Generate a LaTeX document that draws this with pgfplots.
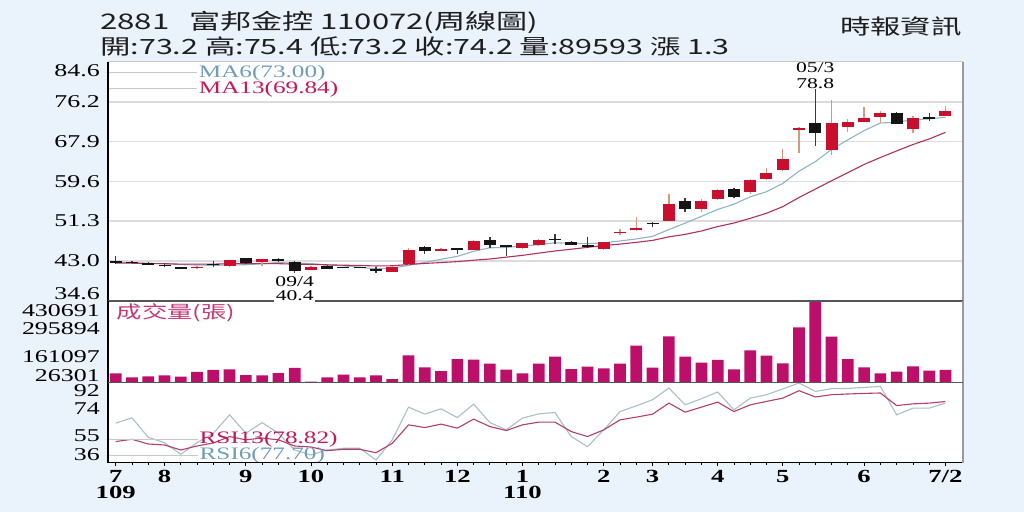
\documentclass[border=0pt]{standalone}
\usepackage{pgfplots}
\pgfplotsset{compat=1.18}
\usepackage{pgfplotstable}
\usepackage{fontspec}
\setmainfont{Liberation Serif}[FakeStretch=1.44]
\newfontfamily\cjk{Noto Sans CJK TC}[FakeStretch=1.45]

\definecolor{bgc}{HTML}{EAF2FB}
\definecolor{candr}{HTML}{C8102E}
\definecolor{wickr}{HTML}{D49A7E}
\definecolor{candk}{HTML}{141414}
\definecolor{wickk}{HTML}{3A3A3A}
\definecolor{ma6c}{HTML}{8DB4C8}
\definecolor{ma13c}{HTML}{B0305E}
\definecolor{ma6t}{HTML}{6F9DB9}
\definecolor{ma13t}{HTML}{C01A5C}
\definecolor{volc}{HTML}{BC0F6A}
\definecolor{volt}{HTML}{C23B78}
\definecolor{rsi6c}{HTML}{A9BFC9}
\definecolor{rsi13c}{HTML}{B2406A}
\definecolor{gridc}{HTML}{DCDCDC}
\definecolor{legl}{HTML}{C8C8C8}
\definecolor{titc}{HTML}{1E1E1E}
\definecolor{frr}{HTML}{9A9A9A}
\definecolor{frtop}{HTML}{C8C8C8}
\definecolor{frsep}{HTML}{555555}

% red (up) candles
\pgfplotstableread{
i o h l c
5 41.4 41.9 41.3 41.8
7 42.0 43.2 41.6 43.1
9 42.8 43.4 41.9 43.3
12 41.1 41.9 41.0 41.8
17 40.7 41.9 40.6 41.8
18 42.3 45.6 42.2 45.3
20 45.15 45.6 45.0 45.55
22 45.3 47.4 45.2 47.1
25 45.6 46.8 45.4 46.7
26 46.2 47.5 46.0 47.3
30 45.5 47.0 45.3 46.9
31 48.8 49.7 48.4 49.1
32 49.4 52.2 49.3 49.8
34 51.4 57.0 51.3 54.9
36 53.8 56.0 53.2 55.4
37 55.9 58.0 55.6 57.8
39 57.4 60.0 57.0 59.9
40 60.0 62.4 59.8 61.3
41 62.0 66.3 61.8 64.2
42 70.4 70.9 65.5 70.8
44 66.2 76.5 65.1 71.8
45 71.0 72.6 70.0 71.9
46 72.1 75.2 72.0 72.9
47 73.1 74.4 71.7 73.8
49 70.5 73.2 69.8 72.8
51 73.2 75.4 73.2 74.2
}\redc

% black (down) candles
\pgfplotstableread{
i o h l c
0 42.9 43.9 42.4 42.6
1 42.85 42.95 42.5 42.6
2 42.6 42.8 42.1 42.2
3 42.2 42.5 41.6 41.95
4 41.6 41.7 41.2 41.3
6 42.35 42.9 41.6 42.05
8 43.5 43.6 42.4 42.6
10 43.3 43.5 42.8 42.9
11 42.8 43.0 40.4 40.8
13 42.0 42.1 41.2 41.3
14 41.75 41.8 41.5 41.5
15 41.65 41.7 41.4 41.4
16 41.2 41.6 40.5 40.8
19 45.8 46.0 44.5 45.0
21 45.6 45.7 44.5 45.2
23 47.3 48.0 45.6 46.2
24 46.2 46.3 44.1 45.8
27 47.65 48.6 46.6 47.35
28 47.0 47.2 46.2 46.3
29 46.4 48.0 45.7 45.8
33 50.9 51.1 50.0 50.7
35 55.4 56.1 53.3 53.8
38 58.1 58.3 56.2 56.4
43 71.8 78.8 67.0 69.6
48 73.8 74.0 71.5 71.6
50 73.0 73.8 72.2 72.7
}\blkc

% volume, moving averages, RSI
\pgfplotstableread{
i v ma6 ma13 rsi6 rsi13
0 72800 42.7 42.5 63.7 50.8
1 53000 42.6 42.5 67.4 52.4
2 58000 42.5 42.4 53.8 49.1
3 62900 42.4 42.4 50.0 48.4
4 56000 42.2 42.3 41.9 44.9
5 79300 42.12 42.3 50.0 47.7
6 89200 42.05 42.3 56.6 49.8
7 92600 42.12 42.4 69.5 54.3
8 64400 42.18 42.4 56.6 52.0
9 62900 42.38 42.4 64.1 53.3
10 74300 42.65 42.4 56.6 52.0
11 99100 42.48 42.3 44.9 47.7
12 31500 42.42 42.26 41.4 47.0
13 53000 42.12 42.16 44.9 44.4
14 65900 41.95 42.08 46.1 45.4
15 53000 41.65 42.02 46.1 45.4
16 62900 41.30 41.92 37.9 43.0
17 44600 41.47 41.96 52.0 49.6
18 161900 42.05 42.23 74.9 62.5
19 102500 42.67 42.45 70.0 60.6
20 84200 43.32 42.63 73.7 63.0
21 143600 43.93 42.83 67.6 60.2
22 140100 44.98 43.12 77.0 66.5
23 120300 45.72 43.38 64.1 61.3
24 90600 45.80 43.76 59.0 58.5
25 72800 46.08 44.14 67.2 62.5
26 120300 46.38 44.60 70.2 64.4
27 155000 46.77 45.05 71.1 64.4
28 94100 46.63 45.42 54.3 57.8
29 105500 46.57 45.81 47.2 54.3
30 97600 46.75 46.20 59.0 59.0
31 120300 47.15 46.49 71.8 66.0
32 209400 47.57 46.86 75.8 67.9
33 100500 48.10 47.26 80.1 70.0
34 256000 49.53 48.01 88.3 77.7
35 155000 50.87 48.52 76.5 71.4
36 125300 52.28 49.23 80.8 74.9
37 138700 53.73 50.15 85.5 78.4
38 92600 54.83 50.90 73.0 71.8
39 186700 56.37 51.87 81.2 76.5
40 160000 57.43 52.93 83.6 78.9
41 122300 59.17 54.31 87.6 81.2
42 300500 61.73 56.23 91.8 86.4
43 430691 63.70 57.98 85.9 82.0
44 254000 66.27 59.72 87.8 83.6
45 143600 68.27 61.42 88.0 84.1
46 102500 70.20 63.13 88.7 84.5
47 72800 71.80 64.58 89.4 84.8
48 80700 71.93 65.95 69.5 76.0
49 107500 72.47 67.29 74.2 77.2
50 85700 72.65 68.45 74.2 77.7
51 89593 73.00 69.84 77.70 78.82
}\ind

\pgfplotsset{
  panel/.style={
    scale only axis, width=855pt, xmin=-0.473, xmax=52.08,
    anchor=south west, clip mode=individual,
    axis background/.style={fill=white},
    axis line style={draw=none},
    xtick=\empty, ytick style={draw=none},
    scaled y ticks=false,
    yticklabel style={font=\fontsize{18}{18}\selectfont, anchor=east, inner sep=0pt, xshift=-8pt, text=black},
  },
  candle/.style={only marks, mark=*, mark size=0pt,
    mark options={draw opacity=0, fill opacity=0}, forget plot},
}

\newcommand{\frameedges}[2]{%
  \draw[#1, line width=1.3pt] (rel axis cs:0,1) -- (rel axis cs:1,1);
  \draw[#2, line width=1.3pt] (rel axis cs:0,0) -- (rel axis cs:1,0);
  \draw[frr, line width=1.6pt] (rel axis cs:1,0) -- (rel axis cs:1,1);
  \draw[black, line width=1.6pt] (rel axis cs:0,0) -- (rel axis cs:0,1);
}

\begin{document}
\begin{tikzpicture}
\fill[bgc] (0pt,0pt) rectangle (1024pt,512pt);

\node[anchor=west, inner sep=0pt, text=titc, font=\cjk\fontsize{21.5}{24}\selectfont] at (100pt,490pt) {2881\hspace{20pt}富邦金控\hspace{6pt}110072(周線圖)};
\node[anchor=west, inner sep=0pt, text=titc, font=\cjk\fontsize{21}{24}\selectfont] at (100pt,466pt) {開:73.2 高:75.4 低:73.2 收:74.2 量:89593 漲 1.3};
\node[anchor=east, inner sep=0pt, text=titc, font=\cjk\fontsize{21}{24}\selectfont] at (962pt,485pt) {時報資訊};

% ---------------- price panel
\begin{axis}[panel, at={(108pt,211pt)}, height=239.3pt,
  ymin=34.6, ymax=84.6,
  ytick={34.6,43.0,51.3,59.6,67.9,76.2,84.6},
  yticklabels={\raisebox{7pt}[\height][\depth]{34.6},43.0,51.3,59.6,67.9,76.2,\raisebox{-9pt}[\height][\depth]{84.6}},
  ymajorgrids, grid style={gridc, line width=1.5pt}]
\addplot[ma6c, line width=1.1pt] table[x=i, y=ma6]{\ind};
\addplot[ma13c, line width=1.1pt] table[x=i, y=ma13]{\ind};
% wicks
\addplot[candle,
  error bars/.cd, y dir=plus, y explicit, error mark=none,
  error bar style={draw=wickr, line width=1.3pt}]
  table[x=i, y=l, y error plus expr=\thisrow{h}-\thisrow{l}]{\redc};
\addplot[candle,
  error bars/.cd, y dir=plus, y explicit, error mark=none,
  error bar style={draw=wickk, line width=1.3pt}]
  table[x=i, y=l, y error plus expr=\thisrow{h}-\thisrow{l}]{\blkc};
% bodies
\addplot[candle,
  error bars/.cd, y dir=plus, y explicit, error mark=none,
  error bar style={draw=candr, line width=12pt}]
  table[x=i, y=o, y error plus expr=\thisrow{c}-\thisrow{o}]{\redc};
\addplot[candle,
  error bars/.cd, y dir=plus, y explicit, error mark=none,
  error bar style={draw=candk, line width=12pt}]
  table[x=i, y=c, y error plus expr=\thisrow{o}-\thisrow{c}]{\blkc};
% legend
\draw[legl, line width=0.8pt] (axis cs:-0.45,82.45) -- (axis cs:5.0,82.45);
\draw[legl, line width=0.8pt] (axis cs:-0.45,79.1) -- (axis cs:5.0,79.1);
\node[anchor=west, inner sep=0pt, text=ma6t, font=\fontsize{17.5}{18}\selectfont] at (axis cs:5.1,82.2) {MA6(73.00)};
\node[anchor=west, inner sep=0pt, text=ma13t, font=\fontsize{17.5}{18}\selectfont] at (axis cs:5.1,78.9) {MA13(69.84)};
% annotations
\node[anchor=south, inner sep=0pt, yshift=1pt, align=center, font=\fontsize{15}{16}\selectfont] at (axis cs:43,78.8) {05/3\\78.8};
\coordinate (lo11) at (axis cs:11,40.4);
\frameedges{frtop}{frsep}
\end{axis}

% ---------------- volume panel
\begin{axis}[panel, at={(108pt,129.3pt)}, height=81.7pt,
  ymin=26301, ymax=430691,
  ytick={26301,161097,295894,430691},
  yticklabels={\raisebox{7pt}[\height][\depth]{26301},\raisebox{-1pt}[\height][\depth]{161097},295894,\raisebox{-10pt}[\height][\depth]{430691}}]
\addplot[ybar, bar width=11.7pt, fill=volc, draw=none] table[x=i, y=v]{\ind};
\node[anchor=west, inner sep=0pt, text=volt, font=\cjk\fontsize{17.5}{18}\selectfont] at (axis cs:0.05,371300) {成交量(張)};
\frameedges{frsep}{frsep}
\end{axis}

% ---------------- RSI panel
\begin{axis}[panel, at={(108pt,49.3pt)}, height=80pt,
  ymin=36, ymax=92,
  ytick={36,55,74,92},
  yticklabels={\raisebox{8pt}[\height][\depth]{36},55,74,\raisebox{-8pt}[\height][\depth]{92}},
  xtick={0,3,8,12,17,21,25,30,33,37,41,46,51},
  xticklabels={{7\\109},8,9,10,11,12,{1\\110},2,3,4,5,6,7/2},
  minor xtick={0,...,51},
  xtick pos=bottom, xtick align=outside,
  major tick length=3pt, minor tick length=2pt,
  xtick style={black, line width=0.8pt},
  xticklabel style={anchor=north, align=center, inner sep=0pt, yshift=-4pt, font=\bfseries\fontsize{18.5}{16.5}\selectfont}]
\addplot[rsi6c, line width=1.1pt] table[x=i, y=rsi6]{\ind};
\addplot[rsi13c, line width=1.1pt] table[x=i, y=rsi13]{\ind};
\draw[legl, line width=0.8pt] (axis cs:-0.45,52.6) -- (axis cs:5.05,52.6);
\draw[legl, line width=0.8pt] (axis cs:-0.45,41.4) -- (axis cs:5.05,41.4);
\node[anchor=west, inner sep=0pt, text=ma13t, font=\fontsize{17.5}{18}\selectfont] at (axis cs:5.15,52.6) {RSI13(78.82)};
\node[anchor=west, inner sep=0pt, text=ma6t, font=\fontsize{17.5}{18}\selectfont] at (axis cs:5.15,41.4) {RSI6(77.70)};
\frameedges{frsep}{black}
\end{axis}

\node[anchor=north, yshift=-2pt, inner sep=1pt, fill=white, align=center, font=\fontsize{15}{14}\selectfont] at (lo11) {09/4\\40.4};

\pgfresetboundingbox
\useasboundingbox (0pt,0pt) rectangle (1024pt,512pt);
\end{tikzpicture}
\end{document}
